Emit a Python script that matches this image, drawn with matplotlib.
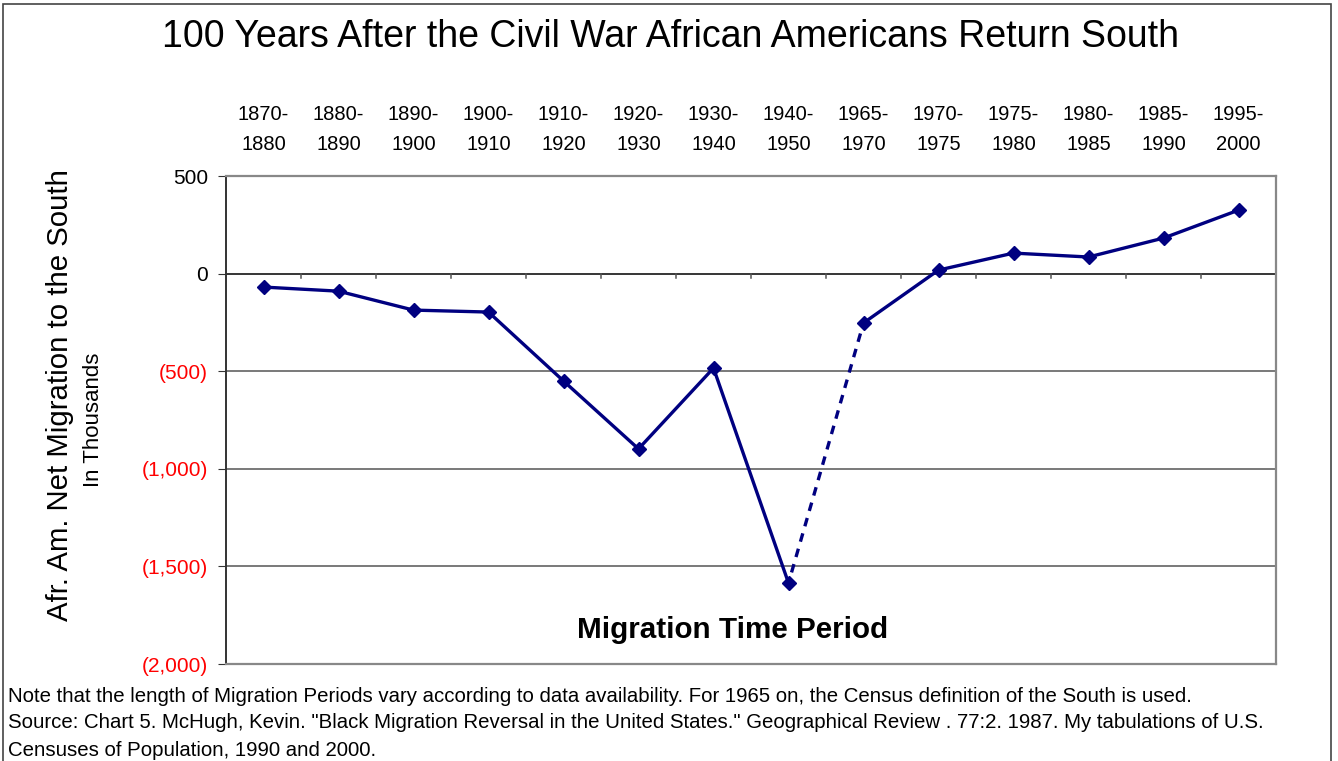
import numpy as np
import matplotlib.pyplot as plt
from matplotlib.patches import Rectangle

plt.rcParams['font.family'] = ['Liberation Sans', 'DejaVu Sans']

# periode migrasi (label atas) dan nilai migrasi bersih (ribuan)
periods = ['1870-\n1880', '1880-\n1890', '1890-\n1900', '1900-\n1910', '1910-\n1920',
           '1920-\n1930', '1930-\n1940', '1940-\n1950', '1965-\n1970', '1970-\n1975',
           '1975-\n1980', '1980-\n1985', '1985-\n1990', '1995-\n2000']
net_migration = [-69, -90, -187, -197, -550, -898, -484, -1585, -253, 18, 105, 85, 182, 325]
y_ticks = [500, 0, -500, -1000, -1500, -2000]

W, H = 1338, 761
fig = plt.figure(figsize=(W / 100, H / 100), dpi=100)
fig.patches.append(Rectangle((3 / W, -0.02), 1328 / W, 1.02 - 4 / H, transform=fig.transFigure,
                             fill=False, edgecolor='#444444', linewidth=1.2))

ax = fig.add_axes([226 / W, 1 - 664 / H, 1050 / W, 488 / H])
x = np.arange(len(periods))
y = np.array(net_migration)
navy = '#000080'

# garis solid, garis putus-putus untuk celah data 1950-1965
ax.plot(x[:8], y[:8], '-', color=navy, lw=2.4, marker='D', ms=7.5, zorder=3)
ax.plot(x[7:9], y[7:9], color=navy, lw=2.4, linestyle=(1.5, (2.6, 2.2)), zorder=3)
ax.plot(x[8:], y[8:], '-', color=navy, lw=2.4, marker='D', ms=7.5, zorder=3)

ax.set_xlim(-0.5, len(periods) - 0.5)
ax.set_ylim(-2000, 500)
ax.set_yticks(y_ticks)
ax.set_yticklabels(['{:,}'.format(v) if v >= 0 else '({:,})'.format(-v) for v in y_ticks])
for lbl, v in zip(ax.get_yticklabels(), y_ticks):
    lbl.set_color('red' if v < 0 else 'black')
ax.tick_params(axis='y', labelsize=15, length=6, color='#333333', pad=7)
ax.yaxis.grid(True, color='#555555', linewidth=1.1)
ax.set_axisbelow(True)
ax.axhline(0, color='#333333', linewidth=1.3, zorder=2)

# label periode di atas plot
ax.set_xticks(x)
ax.set_xticklabels(periods, fontsize=14.5, linespacing=1.76)
ax.xaxis.tick_top()
ax.tick_params(axis='x', length=0, pad=15.5)

# tanda tick pada sumbu nol di antara kategori
for b in x[:-1] + 0.5:
    ax.plot([b, b], [0, -25], color='#555555', lw=1.1, zorder=2)

for s in ['top', 'right', 'bottom']:
    ax.spines[s].set_color('#888888')
    ax.spines[s].set_linewidth(1.6)
ax.spines['left'].set_color('#333333')
ax.spines['left'].set_linewidth(1.4)

fig.text(671 / W, 1 - 37 / H, '100 Years After the Civil War African Americans Return South',
         ha='center', va='center', fontsize=27)
fig.text(733 / W, 1 - 630 / H, 'Migration Time Period', ha='center', va='center',
         fontsize=21.3, fontweight='bold')
fig.text(60 / W, 1 - 395 / H, 'Afr. Am. Net Migration to the South', rotation=90,
         ha='center', va='center', fontsize=21.2)
fig.text(93 / W, 1 - 420 / H, 'In Thousands', rotation=90, ha='center', va='center', fontsize=16)

notes = ['Note that the length of Migration Periods vary according to data availability. For 1965 on, the Census definition of the South is used.',
         'Source: Chart 5. McHugh, Kevin. "Black Migration Reversal in the United States." Geographical Review . 77:2. 1987. My tabulations of U.S.',
         'Censuses of Population, 1990 and 2000.']
for i, line in enumerate(notes):
    fig.text(8 / W, 1 - (696 + 27 * i) / H, line, ha='left', va='center', fontsize=14.7)

fig.savefig('out.png', dpi=100)
